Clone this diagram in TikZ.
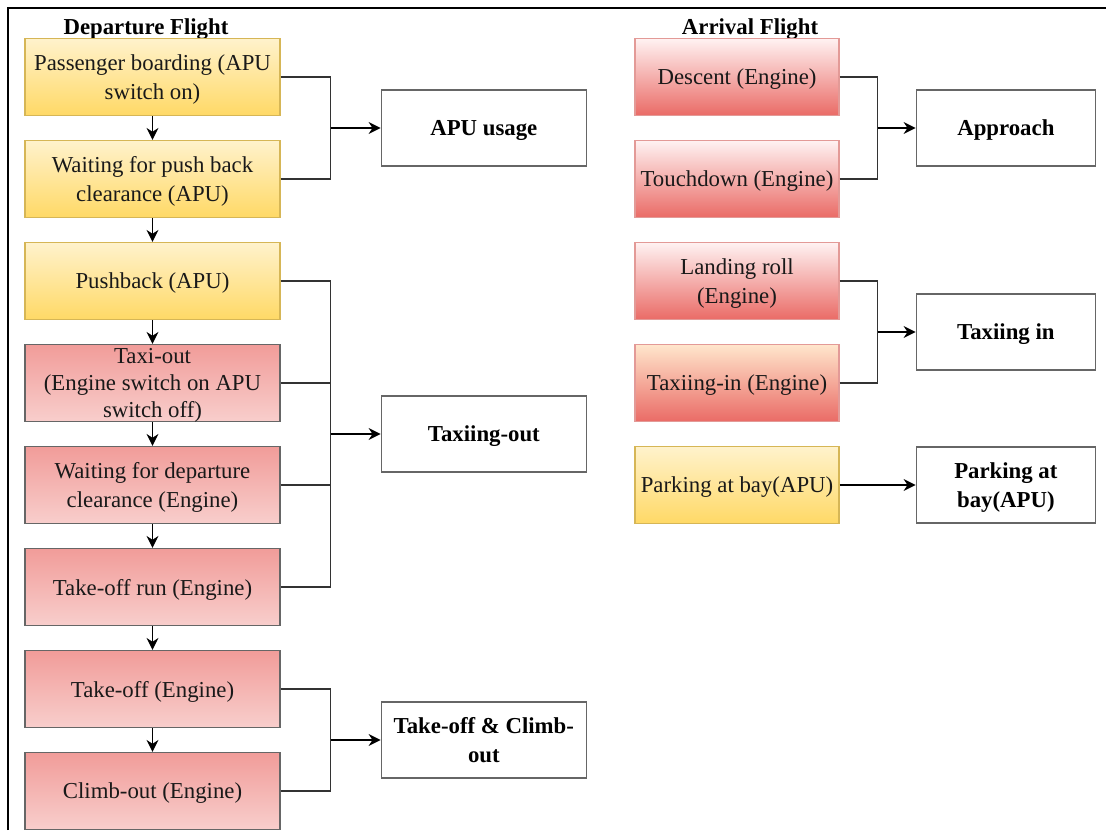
\documentclass[tikz,border=0pt]{standalone}
\usepackage{fontspec}
\setmainfont{Liberation Serif}
\usetikzlibrary{arrows.meta, positioning, calc}
\definecolor{yeltop}{HTML}{FFF2CC}
\definecolor{yelbot}{HTML}{FFD966}
\definecolor{yelline}{HTML}{D6B656}
\definecolor{redtop}{HTML}{F19C99}
\definecolor{redlight}{HTML}{F8CECC}
\definecolor{redbot}{HTML}{EA6B66}
\definecolor{redline}{HTML}{E39A97}
\definecolor{pinktop}{HTML}{FFF2F2}
\definecolor{orangetop}{HTML}{FFE6CC}
\definecolor{greyline}{HTML}{666666}
\newcommand{\stagefont}{\fontsize{11.4}{14.5}\selectfont}
\tikzset{
  stagebox/.style={align=center, inner sep=0pt, minimum height=38.5pt, line width=0.6pt, text depth=-2.5pt, font=\stagefont, text=black!90},
  yelbox/.style={stagebox, draw=yelline, top color=yeltop, bottom color=yelbot, minimum width=127.5pt},
  depbox/.style={stagebox, draw=greyline, top color=redtop, bottom color=redlight, minimum width=127.5pt},
  arrbox/.style={stagebox, draw=redline, top color=pinktop, bottom color=redbot, minimum width=102pt},
  taxbox/.style={stagebox, draw=redline, top color=orangetop, bottom color=redbot, minimum width=102pt},
  parkbox/.style={stagebox, draw=yelline, top color=yeltop, bottom color=yelbot, minimum width=102pt},
  phase/.style={draw=greyline, fill=white, line width=0.75pt, align=center, inner sep=0pt, minimum height=38pt, minimum width=102.5pt, text depth=-2pt, font=\stagefont\bfseries},
  phasesm/.style={phase, minimum width=89.5pt},
  title/.style={font=\stagefont\bfseries},
  bus/.style={draw=black!80, line width=0.65pt},
  arr/.style={-{Stealth[length=6pt, width=6pt]}, black, line width=0.65pt},
  frame/.style={line width=1.25pt, black},
}
\begin{document}
\begin{tikzpicture}[x=0.5pt, y=-0.5pt, node distance=11.9pt]
  \useasboundingbox (0,0) rectangle (1106,830);
  \draw[frame] (8,830) -- (8,8) -- (1106,8);

  % departure flight
  \node[title] (dtitle) at (146,29) {Departure Flight};
  \node[yelbox] (d1) at (152.5,77) {Passenger boarding (APU\\switch on)};
  \node[yelbox, below=of d1] (d2) {Waiting for push back\\clearance (APU)};
  \node[yelbox, below=of d2] (d3) {Pushback (APU)};
  \node[depbox, below=of d3, text depth=-1pt, font=\fontsize{11.4}{13.6}\selectfont] (d4) {Taxi-out\\(Engine switch on APU\\switch off)};
  \node[depbox, below=of d4] (d5) {Waiting for departure\\clearance (Engine)};
  \node[depbox, below=of d5] (d6) {Take-off run (Engine)};
  \node[depbox, below=of d6] (d7) {Take-off (Engine)};
  \node[depbox, below=of d7] (d8) {Climb-out (Engine)};
  \foreach \i [count=\j from 2] in {1,...,7}
    \draw[arr] (d\i) -- (d\j);

  \coordinate (m1) at ($(d1.east)!0.5!(d2.east)$);
  \node[phase, right=50pt of m1] (apu) {APU usage};
  \coordinate[right=25pt of m1] (j1);
  \draw[bus] (d1.east) -| (j1);
  \draw[bus] (d2.east) -| (j1);
  \draw[arr] (j1) -- (apu);

  \coordinate (m2) at ($(d3.east)!0.5!(d6.east)$);
  \node[phase, right=50pt of m2] (taxout) {Taxiing-out};
  \coordinate[right=25pt of m2] (j2);
  \foreach \i in {3,...,6}
    \draw[bus] (d\i.east) -| (j2);
  \draw[arr] (j2) -- (taxout);

  \coordinate (m3) at ($(d7.east)!0.5!(d8.east)$);
  \node[phase, right=50pt of m3] (climb) {Take-off \& Climb-\\out};
  \coordinate[right=25pt of m3] (j3);
  \draw[bus] (d7.east) -| (j3);
  \draw[bus] (d8.east) -| (j3);
  \draw[arr] (j3) -- (climb);

  % arrival flight
  \node[title] (atitle) at (750,29) {Arrival Flight};
  \node[arrbox] (a1) at (737,77) {Descent (Engine)};
  \node[arrbox, below=of a1] (a2) {Touchdown (Engine)};
  \node[arrbox, below=of a2] (a3) {Landing roll\\(Engine)};
  \node[taxbox, below=of a3] (a4) {Taxiing-in (Engine)};
  \node[parkbox, below=of a4] (a5) {Parking at bay(APU)};

  \coordinate (m4) at ($(a1.east)!0.5!(a2.east)$);
  \node[phasesm, right=38pt of m4] (appr) {Approach};
  \coordinate[right=19pt of m4] (j4);
  \draw[bus] (a1.east) -| (j4);
  \draw[bus] (a2.east) -| (j4);
  \draw[arr] (j4) -- (appr);

  \coordinate (m5) at ($(a3.east)!0.5!(a4.east)$);
  \node[phasesm, right=38pt of m5] (taxin) {Taxiing in};
  \coordinate[right=19pt of m5] (j5);
  \draw[bus] (a3.east) -| (j5);
  \draw[bus] (a4.east) -| (j5);
  \draw[arr] (j5) -- (taxin);

  \node[phasesm, right=38pt of a5] (park) {Parking at\\bay(APU)};
  \draw[arr] (a5) -- (park);
\end{tikzpicture}
\end{document}
